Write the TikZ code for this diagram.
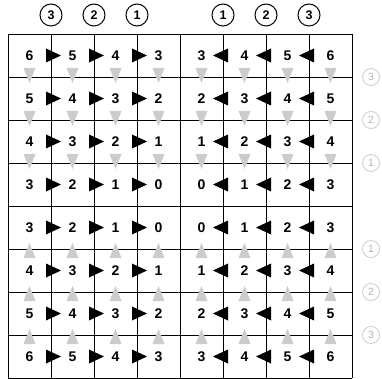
\documentclass[tikz,border=0pt]{standalone}
\usepackage{fontspec}
\setmainfont{Liberation Sans}

\begin{document}
\begin{tikzpicture}[
            x=1pt, y=-1pt,
            cost/.style={font=\fontsize{14}{14}\selectfont\bfseries, inner sep=0pt},
            hop/.style={draw, circle, line width=1pt, minimum size=22pt, inner sep=0pt,
                font=\fontsize{12.5}{12.5}\selectfont\bfseries},
            level/.style={draw=black!20, circle, line width=0.8pt, minimum size=17pt, inner sep=0pt,
                text=black!30, font=\fontsize{10.5}{10.5}\selectfont},
            gridline/.style={line width=0.9pt},
            sideflow/.style={fill=black},
            downflow/.style={fill=black!20}
        ]
            \useasboundingbox (0,0) rectangle (382,379);

            % grid
            \foreach \i in {0,...,8} {
                \draw[gridline] (8+43*\i,34) -- (8+43*\i,378);
                \draw[gridline] (8,34+43*\i) -- (352,34+43*\i);
            }

            % grey triangles on the row lines
            \foreach \c in {0,...,7} {
                \foreach \j in {1,2,3} {
                    \fill[downflow] (29.5+43*\c-6,34+43*\j-9) -- (29.5+43*\c,34+43*\j+6)
                        -- (29.5+43*\c+6,34+43*\j-9) -- cycle;
                    \fill[downflow] (29.5+43*\c-6,206+43*\j+9) -- (29.5+43*\c,206+43*\j-6)
                        -- (29.5+43*\c+6,206+43*\j+9) -- cycle;
                }
            }

            % black triangles on the column lines
            \foreach \r in {0,...,7} {
                \foreach \i in {1,2,3} {
                    \fill[sideflow] (8+43*\i-5,55.5+43*\r-7) -- (8+43*\i+10,55.5+43*\r)
                        -- (8+43*\i-5,55.5+43*\r+7) -- cycle;
                    \fill[sideflow] (180+43*\i+5,55.5+43*\r-7) -- (180+43*\i-10,55.5+43*\r)
                        -- (180+43*\i+5,55.5+43*\r+7) -- cycle;
                }
            }

            % costs
            \foreach \r in {0,...,7} {
                \foreach \c in {0,...,7} {
                    \pgfmathtruncatemacro{\v}{abs(\c-3.5)+abs(\r-3.5)-1}
                    \node[cost] (n\r\c) at (29.5+43*\c,55.5+43*\r) {\v};
                }
            }

            % hop labels
            \node[hop] (top3l) at (51,15) {3};
            \node[hop] (top2l) at (94,15) {2};
            \node[hop] (top1l) at (137,15) {1};
            \node[hop] (top1r) at (223,15) {1};
            \node[hop] (top2r) at (266,15) {2};
            \node[hop] (top3r) at (309,15) {3};

            \node[level] (side3t) at (371,77) {3};
            \node[level] (side2t) at (371,120) {2};
            \node[level] (side1t) at (371,163) {1};
            \node[level] (side1b) at (371,249) {1};
            \node[level] (side2b) at (371,292) {2};
            \node[level] (side3b) at (371,335) {3};

        \end{tikzpicture}
\end{document}
